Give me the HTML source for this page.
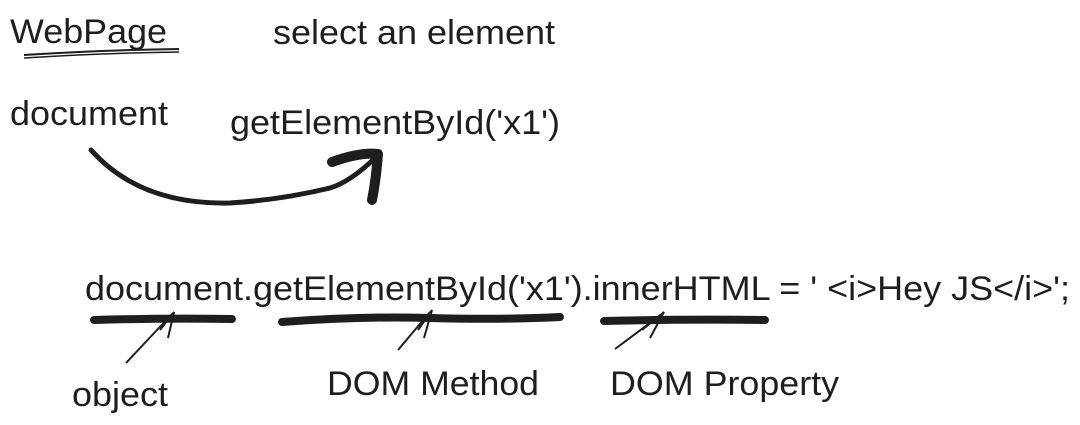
<!DOCTYPE html>
<html><head><meta charset="utf-8"><style>
html,body{margin:0;padding:0;background:#fff;width:1080px;height:425px;overflow:hidden}
svg{display:block}
text{font-family:"Liberation Sans",sans-serif;fill:#1e1e1e;font-size:34px}
</style></head><body>
<svg width="1080" height="425" viewBox="0 0 1080 425" xmlns="http://www.w3.org/2000/svg">
<text x="10" y="43" textLength="157" lengthAdjust="spacingAndGlyphs">WebPage</text>
<path d="M24 55 Q100 50 179 49" stroke="#1e1e1e" stroke-width="2" fill="none"/>
<path d="M24 58 Q100 53 179 52" stroke="#1e1e1e" stroke-width="1.5" fill="none"/>
<text x="273" y="44" textLength="282" lengthAdjust="spacingAndGlyphs">select an element</text>
<text x="10" y="125" textLength="158" lengthAdjust="spacingAndGlyphs">document</text>
<text x="230" y="134" textLength="330" lengthAdjust="spacingAndGlyphs">getElementById('x1')</text>
<path d="M91 150 Q140 205 230 203 Q280 200 330 188 Q350 182 375 158" stroke="#1e1e1e" stroke-width="5" fill="none" stroke-linecap="round"/>
<path d="M332 162 Q360 152 378 154 Q376 180 372 200" stroke="#1e1e1e" stroke-width="10" fill="none" stroke-linecap="round" stroke-linejoin="round"/>
<text x="85" y="300" textLength="985" lengthAdjust="spacingAndGlyphs">document.getElementById('x1').innerHTML = ' &lt;i&gt;Hey JS&lt;/i&gt;';</text>
<path d="M94 320 Q160 318 232 319" stroke="#1e1e1e" stroke-width="8" fill="none" stroke-linecap="round"/>
<path d="M282 322 Q360 316 430 318 Q500 320 560 317" stroke="#1e1e1e" stroke-width="8" fill="none" stroke-linecap="round"/>
<path d="M604 321 Q690 319 765 320" stroke="#1e1e1e" stroke-width="8" fill="none" stroke-linecap="round"/>
<path d="M126 363 L172 314 M160 330 L174 312 L168 338" stroke="#1e1e1e" stroke-width="2" fill="none"/>
<path d="M398 350 L430 312 M418 330 L432 310 L424 338" stroke="#1e1e1e" stroke-width="2" fill="none"/>
<path d="M615 349 L662 314 M642 330 L664 312 L650 338" stroke="#1e1e1e" stroke-width="2" fill="none"/>
<text x="72" y="406" textLength="96" lengthAdjust="spacingAndGlyphs">object</text>
<text x="327" y="395" textLength="212" lengthAdjust="spacingAndGlyphs">DOM Method</text>
<text x="610" y="395" textLength="229" lengthAdjust="spacingAndGlyphs">DOM Property</text>
</svg>
</body></html>
